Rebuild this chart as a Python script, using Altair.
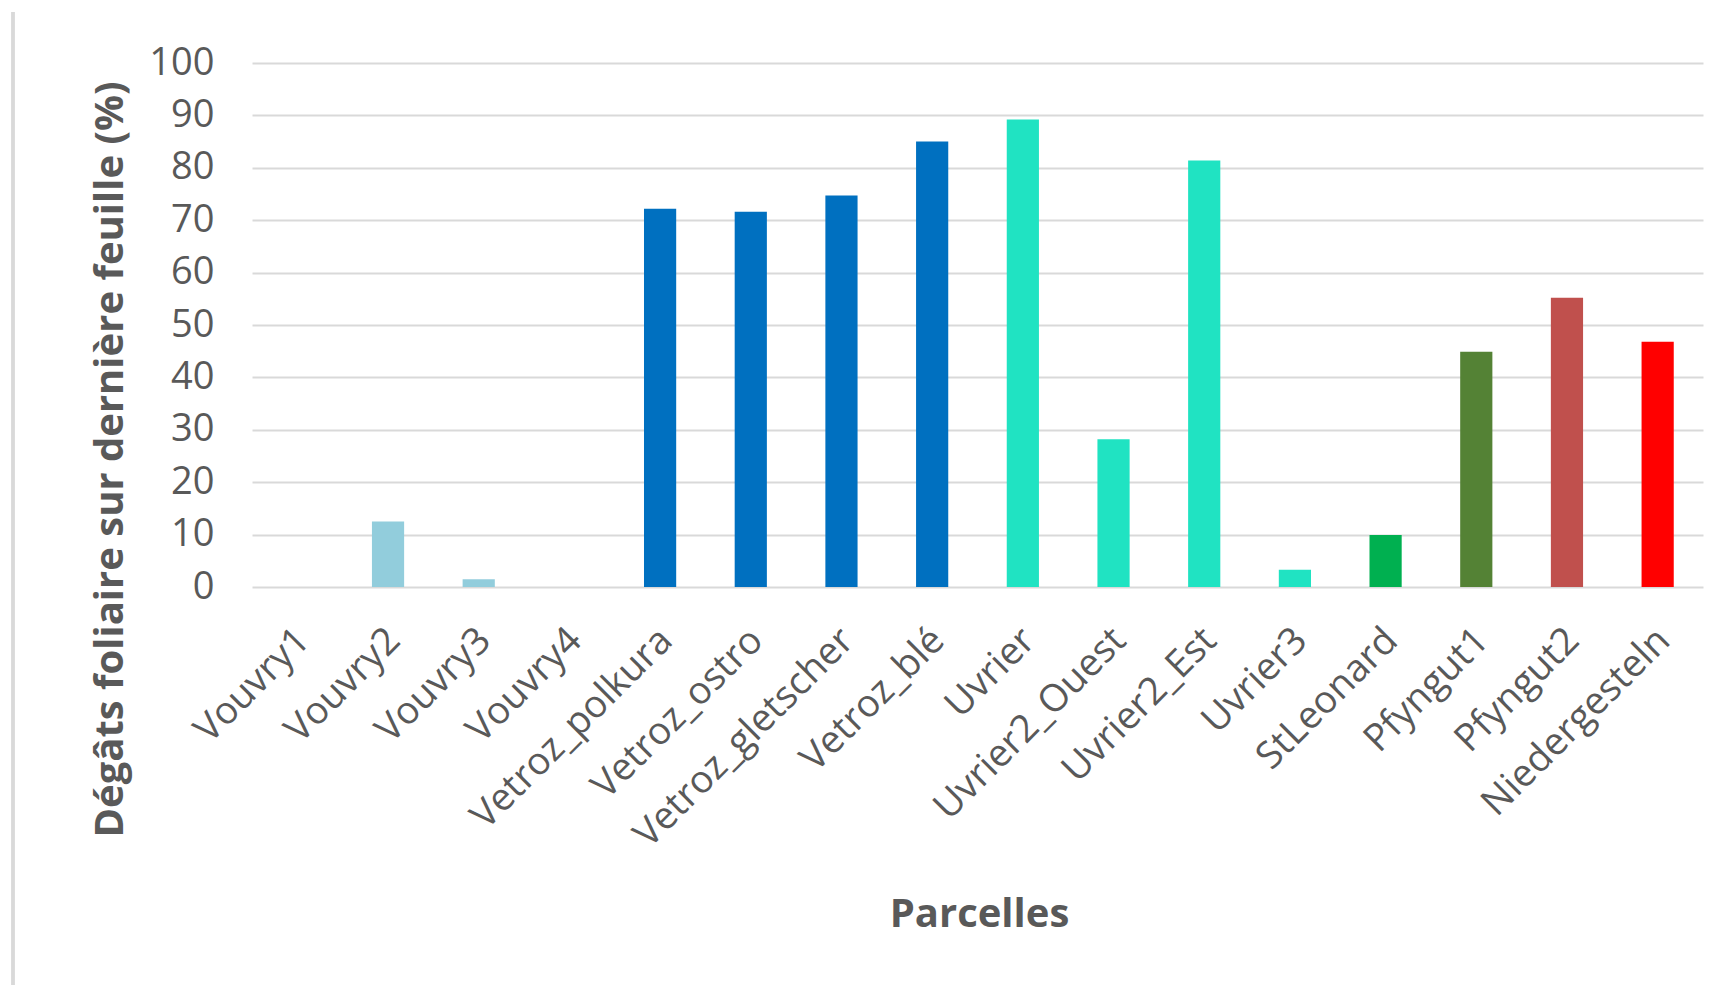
import altair as alt
import pandas as pd

parcelles = ["Vouvry1", "Vouvry2", "Vouvry3", "Vouvry4", "Vetroz_polkura", "Vetroz_ostro",
             "Vetroz_gletscher", "Vetroz_blé", "Uvrier", "Uvrier2_Ouest", "Uvrier2_Est",
             "Uvrier3", "StLeonard", "Pfyngut1", "Pfyngut2", "Niedergesteln"]
degats = [0, 12.5, 1.5, 0, 72.2, 71.6, 74.7, 85.0, 89.2, 28.2, 81.4, 3.3, 9.9, 44.9, 55.2, 46.8]
groupes = ["Vouvry", "Vouvry", "Vouvry", "Vouvry", "Vetroz", "Vetroz", "Vetroz", "Vetroz",
           "Uvrier", "Uvrier", "Uvrier", "Uvrier", "StLeonard", "Pfyngut1", "Pfyngut2", "Niedergesteln"]

groupe_domain = ["Vouvry", "Vetroz", "Uvrier", "StLeonard", "Pfyngut1", "Pfyngut2", "Niedergesteln"]
groupe_colors = ["#92CDDC", "#0070C0", "#20E3C2", "#00B050", "#548235", "#C0504D", "#FF0000"]

df = pd.DataFrame({"Parcelle": parcelles, "Degats": degats, "Groupe": groupes})

FONT = "Open Sans"
GREY = "#595959"

bars = alt.Chart(df).mark_bar().encode(
    x=alt.X("Parcelle:N", sort=parcelles,
            scale=alt.Scale(paddingInner=0.645, paddingOuter=0.3225),
            axis=alt.Axis(title="Parcelles", labelAngle=-45, labelFontSize=38,
                          labelFont=FONT, labelColor=GREY, labelPadding=34,
                          labelOffset=-7,
                          labelLimit=0, grid=False,
                          ticks=False, domain=False,
                          titleFont=FONT, titleFontSize=40, titleFontWeight="bold",
                          titleColor=GREY, titleX=727, titleY=339,
                          titleAlign="center", titleBaseline="alphabetic")),
    y=alt.Y("Degats:Q", scale=alt.Scale(domain=[0, 100], nice=False),
            axis=alt.Axis(title="Dégâts foliaire sur dernière feuille (%)",
                          values=list(range(0, 101, 10)), labelFontSize=38,
                          labelFont=FONT, labelColor=GREY, labelPadding=38,
                          ticks=False, domain=False,
                          gridColor="#D9D9D9", gridWidth=2.2,
                          titleFont=FONT, titleFontSize=40, titleFontWeight="bold",
                          titleColor=GREY, titleX=-130, titleY=396, titleAngle=-90,
                          titleAlign="center", titleBaseline="alphabetic")),
    color=alt.Color("Groupe:N", scale=alt.Scale(domain=groupe_domain, range=groupe_colors),
                    legend=None),
)

border = alt.Chart(df).mark_rule(color="#D9D9D9", strokeWidth=2.5, clip=False).encode(
    x=alt.value(-239), y=alt.value(-51), y2=alt.value(922)
)

chart = alt.layer(border, bars).properties(
    width=1451, height=524,
    background="white",
    autosize=alt.AutoSizeParams(type="none"),
    padding={"left": 244, "top": 55, "right": 13, "bottom": 398},
).configure_view(stroke="transparent", strokeWidth=0)

chart.save("out.html", embed_options={"renderer": "svg", "actions": False})
